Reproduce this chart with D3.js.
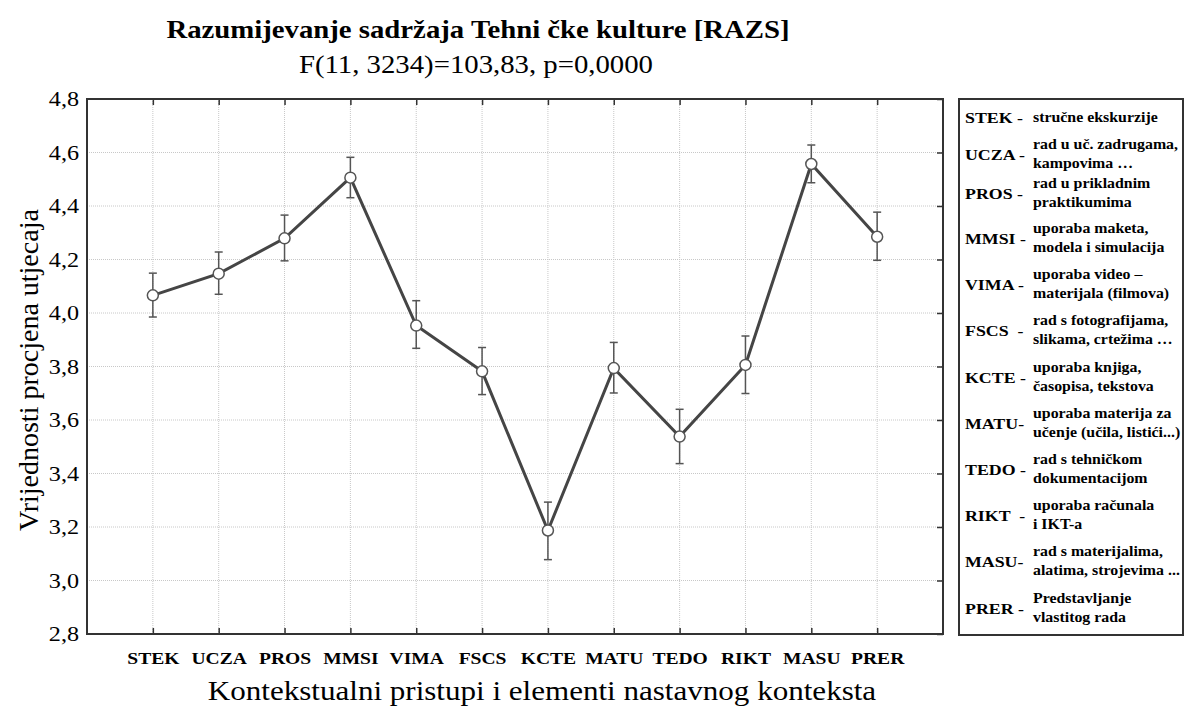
<!DOCTYPE html>
<meta charset="utf-8">
<style>
html, body { margin: 0; background: white; }
svg { display: block; }
svg text { font-family: "Liberation Serif", "DejaVu Serif", serif; }
.grid line { stroke: #c8c8c8; stroke-dasharray: 1,1; }
</style>
<body>
<script src="https://cdn.jsdelivr.net/npm/d3@7"></script>
<script>

var width = 1186,
    height = 706;

// categories and values (mean, -CI, +CI)
var codes = ["STEK", "UCZA", "PROS", "MMSI", "VIMA", "FSCS", "KCTE", "MATU", "TEDO", "RIKT", "MASU", "PRER"];
var means = [4.066, 4.147, 4.279, 4.506, 3.953, 3.782, 3.187, 3.794, 3.538, 3.806, 4.557, 4.285];
var lower = [3.985, 4.070, 4.195, 4.431, 3.868, 3.695, 3.078, 3.701, 3.437, 3.699, 4.487, 4.197];
var upper = [4.149, 4.228, 4.366, 4.582, 4.046, 3.871, 3.293, 3.890, 3.640, 3.914, 4.628, 4.377];
var yTicks = [2.8, 3.0, 3.2, 3.4, 3.6, 3.8, 4.0, 4.2, 4.4, 4.6, 4.8];

var legendCodes = ["STEK -", "UCZA -", "PROS -", "MMSI -", "VIMA -", "FSCS  -", "KCTE -", "MATU-", "TEDO -", "RIKT  -", "MASU-", "PRER -"];
var legendText = [
  ["stručne ekskurzije"],
  ["rad u uč. zadrugama,", "kampovima …"],
  ["rad u prikladnim", "praktikumima"],
  ["uporaba maketa,", "modela i simulacija"],
  ["uporaba video –", "materijala (filmova)"],
  ["rad s fotografijama,", "slikama, crtežima …"],
  ["uporaba knjiga,", "časopisa, tekstova"],
  ["uporaba materija za", "učenje (učila, listići...)"],
  ["rad s tehničkom", "dokumentacijom"],
  ["uporaba računala", "i IKT-a"],
  ["rad s materijalima,", "alatima, strojevima ..."],
  ["Predstavljanje", "vlastitog rada"]
];

var title = "Razumijevanje sadržaja Tehni čke kulture [RAZS]";
var subtitle = "F(11, 3234)=103,83, p=0,0000";
var xTitle = "Kontekstualni pristupi i elementi nastavnog konteksta";
var yTitle = "Vrijednosti procjena utjecaja";

var plot = {left: 87, right: 943, top: 99, bottom: 634};
var stretch = 1.15; // the original picture is a bit wider than it is tall
var fmt = function(v) { return d3.format(".1f")(v).replace(".", ","); };

// widen glyphs horizontally like the source image
function widen(sel) {
  sel.each(function() {
    var len = this.getComputedTextLength();
    d3.select(this)
        .attr("textLength", len * stretch)
        .attr("lengthAdjust", "spacingAndGlyphs");
  });
}

var svg = d3.select("body").append("svg")
    .attr("width", width)
    .attr("height", height);

var x = d3.scalePoint()
    .domain(codes)
    .range([plot.left, plot.right])
    .padding(1);

var y = d3.scaleLinear()
    .domain([2.8, 4.8])
    .range([plot.bottom, plot.top]);

// grid
var grid = svg.append("g").attr("class", "grid");
grid.selectAll(".gx")
    .data(codes)
  .enter().append("line")
    .attr("x1", d => x(d)).attr("x2", d => x(d))
    .attr("y1", plot.top).attr("y2", plot.bottom);
grid.selectAll(".gy")
    .data(yTicks.slice(1, -1))
  .enter().append("line")
    .attr("x1", plot.left).attr("x2", plot.right)
    .attr("y1", d => y(d)).attr("y2", d => y(d));

// axes, ticks pointing inward
var axisStyle = function(g) {
  g.select(".domain").remove();
  g.selectAll(".tick line").attr("stroke", "#333").attr("stroke-width", 1.5);
};

svg.append("g")
    .attr("transform", "translate(0," + plot.bottom + ")")
    .call(d3.axisBottom(x).tickSize(-6).tickPadding(18))
    .call(axisStyle)
    .call(g => g.selectAll("text")
        .attr("font-family", "Liberation Serif")
        .attr("font-weight", "bold")
        .attr("font-size", 17)
        .attr("fill", "#000")
        .call(widen));

svg.append("g")
    .attr("transform", "translate(0," + plot.top + ")")
    .call(d3.axisTop(x).tickSize(-6).tickFormat(""))
    .call(axisStyle);

svg.append("g")
    .attr("transform", "translate(" + plot.left + ",0)")
    .call(d3.axisLeft(y).tickValues(yTicks).tickSize(0).tickPadding(8).tickFormat(fmt))
    .call(axisStyle)
    .call(g => g.selectAll("text")
        .attr("font-family", "Liberation Serif")
        .attr("font-size", 21)
        .attr("fill", "#000")
        .call(widen));

svg.append("g")
    .attr("transform", "translate(" + plot.right + ",0)")
    .call(d3.axisRight(y).tickValues(yTicks).tickSize(-6).tickFormat(""))
    .call(axisStyle);

// frame
svg.append("rect")
    .attr("x", plot.left)
    .attr("y", plot.top)
    .attr("width", plot.right - plot.left)
    .attr("height", plot.bottom - plot.top)
    .attr("fill", "none")
    .attr("stroke", "#333")
    .attr("stroke-width", 2);

// error bars
var bars = svg.append("g")
    .attr("stroke", "#555")
    .attr("stroke-width", 1.5);
codes.forEach(function(c, i) {
  bars.append("line")
      .attr("x1", x(c)).attr("x2", x(c))
      .attr("y1", y(lower[i])).attr("y2", y(upper[i]));
  [lower[i], upper[i]].forEach(function(v) {
    bars.append("line")
        .attr("x1", x(c) - 4).attr("x2", x(c) + 4)
        .attr("y1", y(v)).attr("y2", y(v));
  });
});

// mean line
var line = d3.line()
    .x((d, i) => x(codes[i]))
    .y(d => y(d));

svg.append("path")
    .datum(means)
    .attr("d", line)
    .attr("fill", "none")
    .attr("stroke", "#454545")
    .attr("stroke-width", 3);

svg.append("g")
    .selectAll("circle")
    .data(means)
  .enter().append("circle")
    .attr("cx", (d, i) => x(codes[i]))
    .attr("cy", d => y(d))
    .attr("r", 5.5)
    .attr("fill", "#fff")
    .attr("stroke", "#555")
    .attr("stroke-width", 1.5);

// titles
svg.append("text")
    .attr("x", 478)
    .attr("y", 38)
    .attr("text-anchor", "middle")
    .attr("font-weight", "bold")
    .attr("font-size", 25)
    .text(title)
    .call(widen);

svg.append("text")
    .attr("x", 476)
    .attr("y", 73)
    .attr("text-anchor", "middle")
    .attr("font-size", 25)
    .text(subtitle)
    .call(widen);

svg.append("text")
    .attr("x", 542)
    .attr("y", 700)
    .attr("text-anchor", "middle")
    .attr("font-size", 27)
    .text(xTitle)
    .call(widen);

svg.append("text")
    .attr("transform", "translate(38,370) rotate(-90)")
    .attr("text-anchor", "middle")
    .attr("font-size", 28)
    .text(yTitle);

// legend box
var legend = svg.append("g");
legend.append("rect")
    .attr("x", 959)
    .attr("y", 99)
    .attr("width", 224)
    .attr("height", 536)
    .attr("fill", "none")
    .attr("stroke", "#333")
    .attr("stroke-width", 2);

var rowY = function(i) {
  if (i < 3) return [117, 154, 193][i];
  return 238 + (i - 3) * 46.2;
};

legendCodes.forEach(function(c, i) {
  var cy = rowY(i);
  legend.append("text")
      .attr("x", 965)
      .attr("y", cy + 6)
      .attr("font-weight", "bold")
      .attr("font-size", 15.5)
      .attr("xml:space", "preserve")
      .text(c)
      .call(widen);
  var lines = legendText[i];
  lines.forEach(function(t, j) {
    var ly = lines.length === 1 ? cy + 5 : (j === 0 ? cy - 5 : cy + 14);
    legend.append("text")
        .attr("x", 1033)
        .attr("y", ly)
        .attr("font-weight", "bold")
        .attr("font-size", 13.8)
        .text(t)
        .call(widen);
  });
});

</script>
</body>
